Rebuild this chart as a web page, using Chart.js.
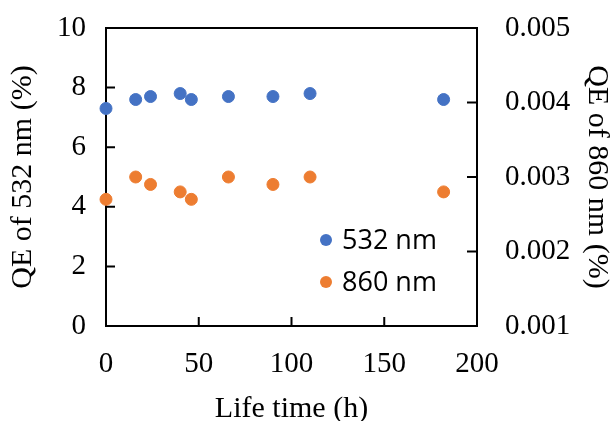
<!DOCTYPE html>
<html lang="en">
<head>
<meta charset="UTF-8" />
<title>QE vs life time</title>
<script src="https://cdn.jsdelivr.net/npm/chart.js"></script>
<style>
  body { margin: 0; background: #fff; }
  canvas { display: block; }
</style>
</head>
<body>
<canvas id="qeChart" width="615" height="421"></canvas>
<script>
  // data
  const lifeTime = [0, 16, 24, 40, 46, 66, 90, 110, 182];
  const qe532 = [7.3, 7.6, 7.7, 7.8, 7.6, 7.7, 7.7, 7.8, 7.6];
  const qe860 = [0.0027, 0.0030, 0.0029, 0.0028, 0.0027, 0.0030, 0.0029, 0.0030, 0.0028];
  const seriesLabels = ['532 nm', '860 nm'];
  const xTicks = [0, 50, 100, 150, 200];
  const leftTicks = [0, 2, 4, 6, 8, 10];
  const rightTicks = [0.001, 0.002, 0.003, 0.004, 0.005];

  const serif = '"Liberation Serif", "Times New Roman", serif';
  const colors = ['#4472C4', '#ED7D31'];

  function toPoints(xs, ys) {
    return xs.map((x, i) => ({ x: x, y: ys[i] }));
  }

  function fixTicks(list) {
    return scale => { scale.ticks = list.map(v => ({ value: v })); };
  }

  // fixed axis width, and drop the label overhang so the plot keeps its size
  function fitY(width) {
    return s => {
      s.width = width;
      s.paddingTop = 0;
      s.paddingBottom = 0;
    };
  }

  // frame around the plot with the small inward tick marks
  const framePlugin = {
    id: 'frame',
    beforeDatasetsDraw(chart) {
      const { ctx, chartArea: a, scales } = chart;
      ctx.save();
      ctx.strokeStyle = '#000';
      ctx.lineWidth = 2;
      ctx.strokeRect(a.left, a.top, a.right - a.left, a.bottom - a.top);
      ctx.beginPath();
      xTicks.slice(1, -1).forEach(v => {
        const px = scales.x.getPixelForValue(v);
        ctx.moveTo(px, a.bottom);
        ctx.lineTo(px, a.bottom - 9);
      });
      leftTicks.slice(1, -1).forEach(v => {
        const py = scales.y.getPixelForValue(v);
        ctx.moveTo(a.left, py);
        ctx.lineTo(a.left + 9, py);
      });
      rightTicks.slice(1, -1).forEach(v => {
        const py = scales.y2.getPixelForValue(v);
        ctx.moveTo(a.right, py);
        ctx.lineTo(a.right - 10, py);
      });
      ctx.stroke();
      ctx.restore();
    },
    afterDatasetsDraw(chart) {
      // legend sits inside the plot, lower right
      const { ctx } = chart;
      ctx.save();
      ctx.font = '27px "Open Sans", "Liberation Sans", sans-serif';
      ctx.textBaseline = 'middle';
      chart.data.datasets.forEach((ds, i) => {
        const cy = 240 + i * 42;
        ctx.fillStyle = ds.backgroundColor;
        ctx.beginPath();
        ctx.arc(326, cy, 6, 0, Math.PI * 2);
        ctx.fill();
        ctx.fillStyle = '#000';
        ctx.fillText(ds.label, 342, cy + 1);
      });
      ctx.restore();
    }
  };

  new Chart(document.getElementById('qeChart'), {
    type: 'scatter',
    data: {
      datasets: [
        {
          label: seriesLabels[0],
          data: toPoints(lifeTime, qe532),
          backgroundColor: colors[0],
          borderColor: colors[0],
          pointRadius: 6,
          yAxisID: 'y',
          clip: false
        },
        {
          label: seriesLabels[1],
          data: toPoints(lifeTime, qe860),
          backgroundColor: colors[1],
          borderColor: colors[1],
          pointRadius: 6,
          yAxisID: 'y2',
          clip: false
        }
      ]
    },
    options: {
      responsive: false,
      animation: false,
      layout: { padding: { top: 28, left: 0, right: 0, bottom: 0 } },
      plugins: {
        legend: { display: false },
        tooltip: { enabled: false }
      },
      scales: {
        x: {
          type: 'linear',
          min: 0,
          max: 200,
          afterBuildTicks: fixTicks(xTicks),
          afterFit: s => { s.height = 95; },
          grid: { display: false, drawTicks: false },
          border: { display: false },
          ticks: { color: '#000', padding: 21, font: { family: serif, size: 29 } },
          title: {
            display: true,
            text: 'Life time (h)',
            color: '#000',
            font: { family: serif, size: 30, lineHeight: 0.8 },
            padding: { top: 0, bottom: 0 }
          }
        },
        y: {
          position: 'left',
          min: 0,
          max: 10,
          afterBuildTicks: fixTicks(leftTicks),
          afterFit: fitY(106),
          grid: { display: false, drawTicks: false },
          border: { display: false },
          ticks: { color: '#000', padding: 20, font: { family: serif, size: 29 } },
          title: {
            display: true,
            text: 'QE of 532 nm (%)',
            color: '#000',
            font: { family: serif, size: 30 },
            padding: { top: 5, bottom: 0 }
          }
        },
        y2: {
          position: 'right',
          min: 0.001,
          max: 0.005,
          afterBuildTicks: fixTicks(rightTicks),
          afterFit: fitY(138),
          grid: { display: false, drawTicks: false },
          border: { display: false },
          ticks: {
            color: '#000',
            padding: 28,
            font: { family: serif, size: 29 },
            callback: v => v.toFixed(3)
          },
          title: {
            display: true,
            text: 'QE of 860 nm (%)',
            color: '#000',
            font: { family: serif, size: 30 },
            padding: { top: 0, bottom: 0 }
          }
        }
      }
    },
    plugins: [framePlugin]
  });
</script>
</body>
</html>
